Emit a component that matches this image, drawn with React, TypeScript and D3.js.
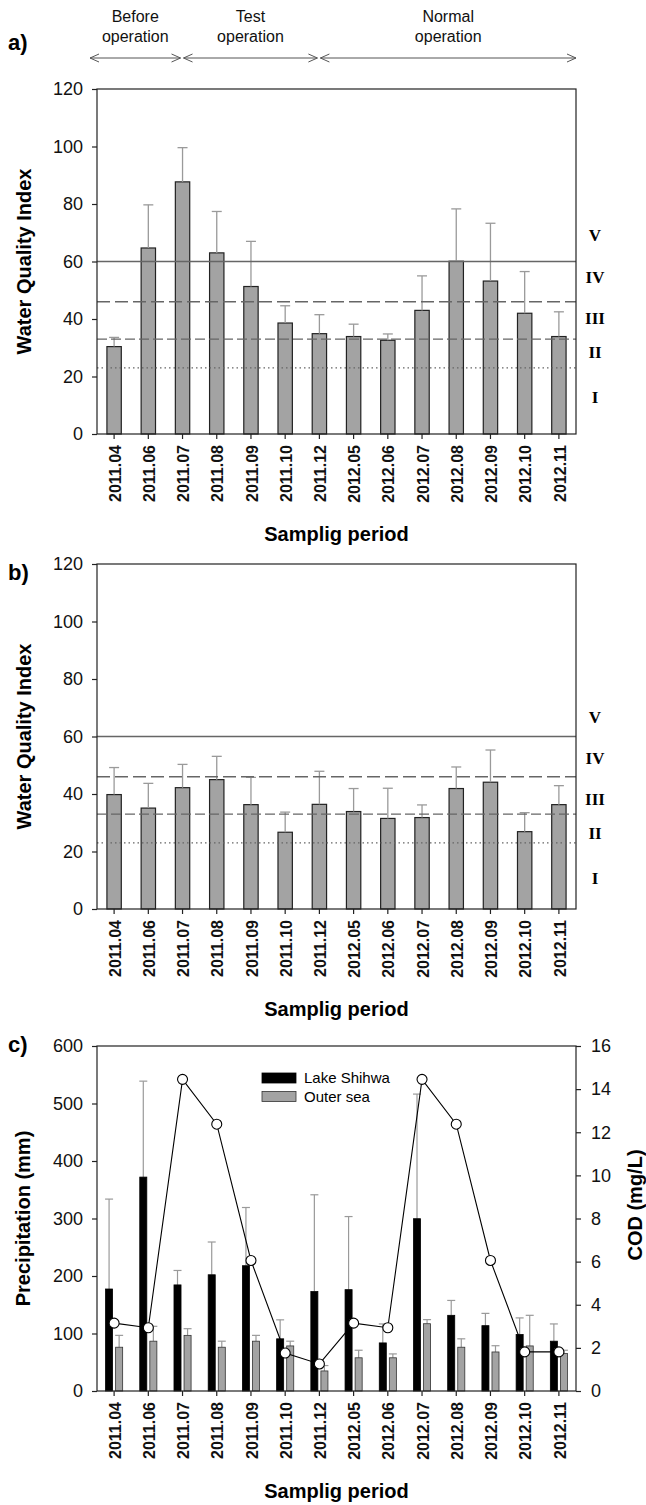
import React, { useEffect, useRef } from 'react';
import * as d3 from 'd3';

// sampling periods (x categories, same for all three panels)
const periods = [
  '2011.04', '2011.06', '2011.07', '2011.08', '2011.09', '2011.10', '2011.12',
  '2012.05', '2012.06', '2012.07', '2012.08', '2012.09', '2012.10', '2012.11',
];

// a) Water Quality Index, Lake Shihwa (mean, sd)
const wqiLake = [30.4, 64.7, 87.7, 63.0, 51.3, 38.6, 34.9, 33.9, 32.6, 43.0, 60.1, 53.2, 42.0, 33.9];
const wqiLakeSd = [3.2, 15.0, 11.9, 14.4, 15.7, 6.0, 6.6, 4.3, 2.2, 12.0, 18.2, 20.1, 14.5, 8.6];

// b) Water Quality Index, outer sea (mean, sd)
const wqiSea = [39.8, 35.1, 42.2, 45.0, 36.3, 26.7, 36.4, 33.9, 31.5, 31.8, 41.9, 44.1, 26.9, 36.3];
const wqiSeaSd = [9.4, 8.6, 8.1, 8.1, 9.5, 7.0, 11.5, 8.0, 10.5, 4.4, 7.5, 11.2, 6.6, 6.6];

// c) COD (mg/L) bars and precipitation (mm) line
const codLake = [4.73, 9.92, 4.92, 5.39, 5.81, 2.42, 4.61, 4.7, 2.23, 7.99, 3.51, 3.03, 2.62, 2.31];
const codLakeSd = [4.17, 4.45, 0.67, 1.52, 2.7, 0.88, 4.49, 3.39, 0.88, 5.78, 0.69, 0.57, 0.77, 0.8];
const codSea = [2.03, 2.31, 2.58, 2.03, 2.31, 2.09, 0.93, 1.54, 1.54, 3.12, 2.03, 1.81, 2.09, 1.74];
const codSeaSd = [0.55, 0.69, 0.31, 0.28, 0.27, 0.22, 0.25, 0.35, 0.18, 0.19, 0.39, 0.29, 1.42, 0.15];
const precipitation = [118, 110, 542, 464, 227, 66, 47, 118, 110, 542, 464, 227, 68, 68];

// WQI grade boundaries and grade labels
const gradeLines = [
  { value: 60, dash: null },
  { value: 46, dash: '13,5' },
  { value: 33, dash: '10,4' },
  { value: 23, dash: '1.5,3' },
];
const grades = ['V', 'IV', 'III', 'II', 'I'];
const gradePosA = [69.3, 54.7, 40.4, 28.6, 12.9];
const gradePosB = [66.9, 52.4, 38.1, 26.3, 10.7];

// operation phases above panel a
const phases = [
  { label: ['Before', 'operation'], from: '2011.04', to: '2011.07' },
  { label: ['Test', 'operation'], from: '2011.07', to: '2011.12' },
  { label: ['Normal', 'operation'], from: '2011.12', to: '2012.11' },
];

const wqiTicks = [0, 20, 40, 60, 80, 100, 120];
const precipTicks = [0, 100, 200, 300, 400, 500, 600];
const codTicks = [0, 2, 4, 6, 8, 10, 12, 14, 16];

const FONT = "'Liberation Sans', Arial, Helvetica, sans-serif";
const SERIF = "'Liberation Serif', 'Times New Roman', serif";

const W = 646;
const H = 1505;
const left = 97;
const right = 576;
const plotH = 345;

const App = () => {
  const svgRef = useRef<SVGSVGElement>(null);

  useEffect(() => {
    const svg = d3.select(svgRef.current);
    svg.selectAll('*').remove();

    const x = d3.scaleBand().domain(periods).range([left, right]).paddingInner(0.58).paddingOuter(0.29);
    const cx = (p: string) => (x(p) as number) + x.bandwidth() / 2;

    const frame = (top: number) => {
      svg.append('rect')
        .attr('x', left).attr('y', top)
        .attr('width', right - left).attr('height', plotH)
        .attr('fill', 'none').attr('stroke', '#222').attr('stroke-width', 1.2);
    };

    const styleAxis = (g: any) => {
      g.select('.domain').remove();
      g.selectAll('.tick line').attr('stroke', '#222').attr('stroke-width', 1.2);
      g.selectAll('.tick text').attr('fill', '#111');
      g.attr('font-size', 18).attr('font-family', FONT);
    };

    const xAxis = (bottom: number) => {
      const g = svg.append('g').attr('transform', `translate(0,${bottom})`)
        .call(d3.axisBottom(x).tickSize(5).tickSizeOuter(0).tickFormat(() => ''));
      styleAxis(g);
      svg.append('g').selectAll('text').data(periods).join('text')
        .attr('transform', d => `translate(${cx(d) + 1},${bottom + 11}) rotate(-90)`)
        .attr('text-anchor', 'end').attr('dy', '0.35em')
        .attr('font-family', FONT).attr('font-size', 16).attr('font-weight', 'bold')
        .attr('fill', '#111')
        .text(d => d);
      svg.append('text')
        .attr('x', (left + right) / 2).attr('y', bottom + 107)
        .attr('text-anchor', 'middle')
        .attr('font-family', FONT).attr('font-size', 20).attr('font-weight', 'bold')
        .text('Samplig period');
    };

    const yTitle = (text: string, xPos: number, yPos: number) => {
      svg.append('text')
        .attr('transform', `translate(${xPos},${yPos}) rotate(-90)`)
        .attr('text-anchor', 'middle')
        .attr('font-family', FONT).attr('font-size', 20).attr('font-weight', 'bold')
        .text(text);
    };

    const tag = (text: string, yPos: number) => {
      svg.append('text')
        .attr('x', 8).attr('y', yPos)
        .attr('font-family', FONT).attr('font-size', 22).attr('font-weight', 'bold')
        .text(text);
    };

    const wqiPanel = (top: number, means: number[], sds: number[], gradePos: number[]) => {
      const bottom = top + plotH;
      const y = d3.scaleLinear().domain([0, 120]).range([bottom, top]);
      const rows = periods.map((p, i) => ({ p, v: means[i], sd: sds[i] }));

      svg.append('g').selectAll('rect').data(rows).join('rect')
        .attr('x', d => x(d.p) as number)
        .attr('y', d => y(d.v))
        .attr('width', x.bandwidth())
        .attr('height', d => bottom - y(d.v))
        .attr('fill', '#a3a3a3').attr('stroke', '#222').attr('stroke-width', 1.2);

      const err = svg.append('g').attr('stroke', '#9a9a9a').attr('stroke-width', 1.3);
      err.selectAll('line.v').data(rows).join('line').attr('class', 'v')
        .attr('x1', d => cx(d.p)).attr('x2', d => cx(d.p))
        .attr('y1', d => y(d.v)).attr('y2', d => y(d.v + d.sd));
      err.selectAll('line.c').data(rows).join('line').attr('class', 'c')
        .attr('x1', d => cx(d.p) - 5).attr('x2', d => cx(d.p) + 5)
        .attr('y1', d => y(d.v + d.sd)).attr('y2', d => y(d.v + d.sd));

      svg.append('g').selectAll('line').data(gradeLines).join('line')
        .attr('x1', left).attr('x2', right)
        .attr('y1', d => y(d.value)).attr('y2', d => y(d.value))
        .attr('stroke', '#666').attr('stroke-width', 1.3)
        .attr('stroke-dasharray', d => d.dash);

      svg.append('g').selectAll('text').data(grades).join('text')
        .attr('x', 595).attr('y', (d, i) => y(gradePos[i]))
        .attr('dy', '0.35em').attr('text-anchor', 'middle')
        .attr('font-family', SERIF).attr('font-size', 17).attr('font-weight', 'bold')
        .text(d => d);

      frame(top);
      const ya = svg.append('g').attr('transform', `translate(${left},0)`)
        .call(d3.axisLeft(y).tickValues(wqiTicks).tickSize(5).tickPadding(9));
      styleAxis(ya);
      xAxis(bottom);
      yTitle('Water Quality Index', 31, (top + bottom) / 2);
    };

    // phases
    const phaseY = 58;
    const arrow = (x1: number, x2: number) => {
      const g = svg.append('g').attr('stroke', '#555').attr('stroke-width', 1).attr('fill', 'none');
      g.append('line').attr('x1', x1).attr('x2', x2).attr('y1', phaseY).attr('y2', phaseY);
      g.append('path').attr('d', `M${x1 + 9},${phaseY - 4}L${x1},${phaseY}L${x1 + 9},${phaseY + 4}`);
      g.append('path').attr('d', `M${x2 - 9},${phaseY - 4}L${x2},${phaseY}L${x2 - 9},${phaseY + 4}`);
    };
    phases.forEach((ph, i) => {
      const x1 = i === 0 ? left - 7 : cx(ph.from) + 1;
      const x2 = i === phases.length - 1 ? right : cx(ph.to) - 2;
      arrow(x1, x2);
      const t = svg.append('text')
        .attr('x', (x1 + x2) / 2).attr('y', 22)
        .attr('text-anchor', 'middle')
        .attr('font-family', FONT).attr('font-size', 16).attr('fill', '#111');
      ph.label.forEach((s, j) => t.append('tspan').attr('x', (x1 + x2) / 2).attr('dy', j === 0 ? 0 : 20).text(s));
    });

    tag('a)', 50);
    wqiPanel(89, wqiLake, wqiLakeSd, gradePosA);
    tag('b)', 580);
    wqiPanel(564, wqiSea, wqiSeaSd, gradePosB);

    // panel c
    const topC = 1046;
    const bottomC = topC + plotH;
    const yL = d3.scaleLinear().domain([0, 600]).range([bottomC, topC]);
    const yR = d3.scaleLinear().domain([0, 16]).range([bottomC, topC]);
    const xg = d3.scaleBand().domain(periods).range([left, right]).paddingInner(0.5).paddingOuter(0.25);
    const sub = d3.scaleBand().domain(['lake', 'sea']).range([0, xg.bandwidth()]).paddingInner(0.3);

    const series = [
      { key: 'lake', name: 'Lake Shihwa', vals: codLake, sds: codLakeSd, fill: '#000', stroke: '#000' },
      { key: 'sea', name: 'Outer sea', vals: codSea, sds: codSeaSd, fill: '#a3a3a3', stroke: '#333' },
    ];

    series.forEach(s => {
      const rows = periods.map((p, i) => ({ p, v: s.vals[i], sd: s.sds[i] }));
      const bx = (p: string) => (xg(p) as number) + (sub(s.key) as number);
      const mid = (p: string) => bx(p) + sub.bandwidth() / 2;
      const err = svg.append('g').attr('stroke', '#9a9a9a').attr('stroke-width', 1.2);
      err.selectAll('line.v').data(rows).join('line').attr('class', 'v')
        .attr('x1', d => mid(d.p)).attr('x2', d => mid(d.p))
        .attr('y1', d => yR(d.v)).attr('y2', d => yR(d.v + d.sd));
      err.selectAll('line.c').data(rows).join('line').attr('class', 'c')
        .attr('x1', d => mid(d.p) - 4).attr('x2', d => mid(d.p) + 4)
        .attr('y1', d => yR(d.v + d.sd)).attr('y2', d => yR(d.v + d.sd));
      svg.append('g').selectAll('rect').data(rows).join('rect')
        .attr('x', d => bx(d.p))
        .attr('y', d => yR(d.v))
        .attr('width', sub.bandwidth())
        .attr('height', d => bottomC - yR(d.v))
        .attr('fill', s.fill).attr('stroke', s.stroke).attr('stroke-width', 0.8);
    });

    const pts = periods.map((p, i) => ({ p, v: precipitation[i] }));
    svg.append('path').datum(pts)
      .attr('fill', 'none').attr('stroke', '#000').attr('stroke-width', 1.1)
      .attr('d', d3.line<{ p: string; v: number }>().x(d => cx(d.p)).y(d => yL(d.v)));
    svg.append('g').selectAll('circle').data(pts).join('circle')
      .attr('cx', d => cx(d.p)).attr('cy', d => yL(d.v)).attr('r', 5)
      .attr('fill', '#fff').attr('stroke', '#000').attr('stroke-width', 1.1);

    // legend
    const lg = svg.append('g').attr('transform', 'translate(262,1073)');
    series.forEach((s, i) => {
      lg.append('rect').attr('x', 0).attr('y', i * 18.5).attr('width', 34).attr('height', 10)
        .attr('fill', s.fill).attr('stroke', s.stroke).attr('stroke-width', 0.8);
      lg.append('text').attr('x', 42).attr('y', i * 18.5 + 5).attr('dy', '0.35em')
        .attr('font-family', FONT).attr('font-size', 15).text(s.name);
    });

    frame(topC);
    const yla = svg.append('g').attr('transform', `translate(${left},0)`)
      .call(d3.axisLeft(yL).tickValues(precipTicks).tickSize(5).tickPadding(9));
    styleAxis(yla);
    const yra = svg.append('g').attr('transform', `translate(${right},0)`)
      .call(d3.axisRight(yR).tickValues(codTicks).tickSize(5).tickPadding(10));
    styleAxis(yra);
    xAxis(bottomC);
    yTitle('Precipitation (mm)', 30, (topC + bottomC) / 2);
    svg.append('text')
      .attr('transform', `translate(642,${1205}) rotate(-90)`)
      .attr('text-anchor', 'middle')
      .attr('font-family', FONT).attr('font-size', 20).attr('font-weight', 'bold')
      .text('COD (mg/L)');
    tag('c)', 1052);
  }, []);

  return (
    <svg
      ref={svgRef}
      width={W}
      height={H}
      style={{ position: 'absolute', left: 0, top: 0, background: '#fff' }}
    />
  );
};

export default App;
